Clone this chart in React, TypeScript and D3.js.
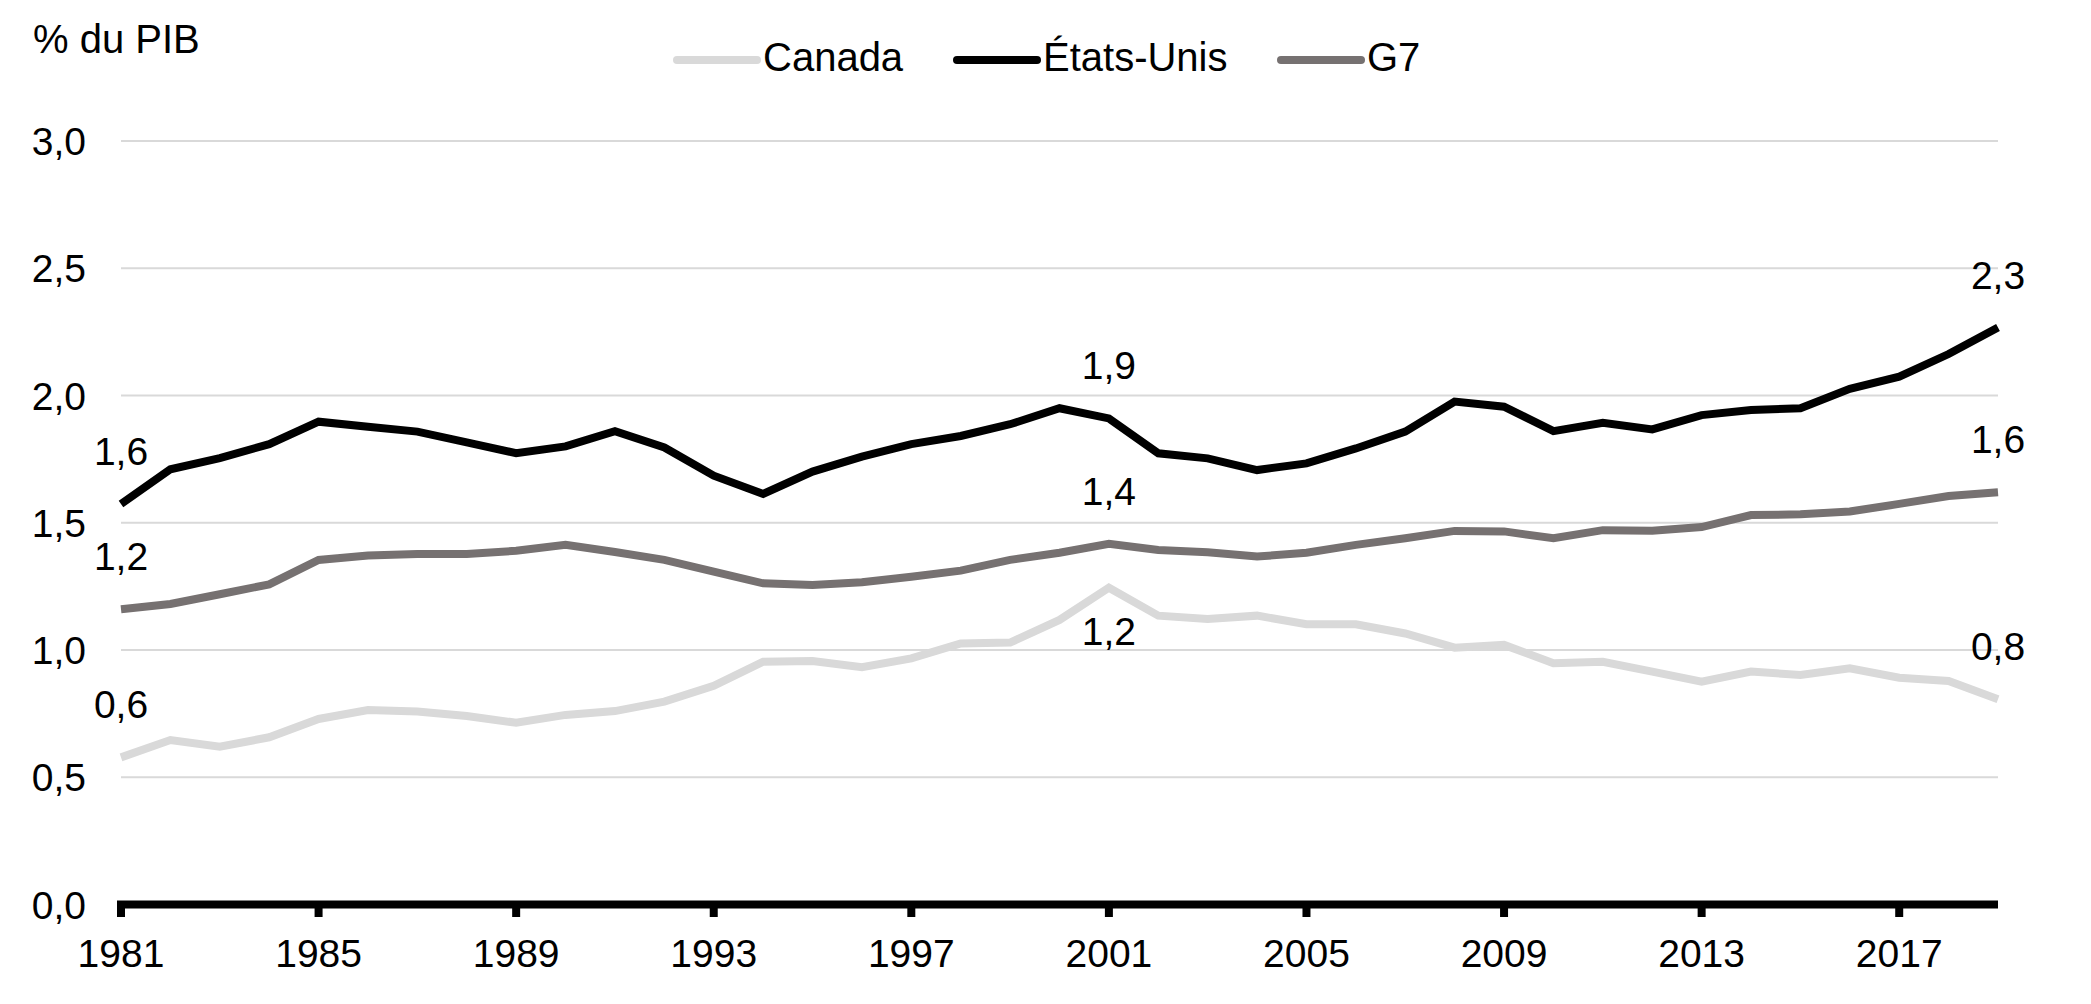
import React from "react";
import * as d3 from "d3";

const years: number[] = d3.range(1981, 2020);

const canada: number[] = [
  0.578, 0.646, 0.62, 0.657, 0.729, 0.764, 0.758, 0.741, 0.714, 0.745,
  0.76, 0.797, 0.859, 0.954, 0.957, 0.932, 0.967, 1.026, 1.029, 1.118,
  1.245, 1.135, 1.122, 1.135, 1.101, 1.101, 1.065, 1.009, 1.02, 0.948,
  0.954, 0.915, 0.876, 0.915, 0.902, 0.928, 0.891, 0.878, 0.806,
];

const etatsUnis: number[] = [
  1.574, 1.71, 1.754, 1.809, 1.897, 1.877, 1.858, 1.816, 1.773, 1.8,
  1.86, 1.796, 1.685, 1.613, 1.701, 1.76, 1.809, 1.841, 1.887, 1.95,
  1.91, 1.773, 1.753, 1.707, 1.733, 1.792, 1.858, 1.976, 1.956, 1.86,
  1.893, 1.867, 1.923, 1.943, 1.95, 2.026, 2.074, 2.163, 2.267,
];

const g7: number[] = [
  1.16, 1.181, 1.219, 1.258, 1.354, 1.371, 1.377, 1.377, 1.39, 1.413,
  1.385, 1.354, 1.308, 1.262, 1.255, 1.266, 1.288, 1.312, 1.354, 1.382,
  1.417, 1.393, 1.384, 1.367, 1.382, 1.413, 1.439, 1.468, 1.466, 1.439,
  1.471, 1.469, 1.483, 1.53, 1.533, 1.544, 1.574, 1.605, 1.62,
];

const seriesNames: string[] = ["Canada", "États-Unis", "G7"];
const seriesColors: string[] = ["#d9d9d9", "#000000", "#767171"];

const yTicks: number[] = [0, 0.5, 1, 1.5, 2, 2.5, 3];
const xTicks: number[] = [1981, 1985, 1989, 1993, 1997, 2001, 2005, 2009, 2013, 2017];

// annotations
const labelSeries: number[] = [1, 2, 0, 1, 2, 0, 1, 2, 0];
const labelYears: number[] = [1981, 1981, 1981, 2001, 2001, 2001, 2019, 2019, 2019];
const labelTexts: string[] = ["1,6", "1,2", "0,6", "1,9", "1,4", "1,2", "2,3", "1,6", "0,8"];
const labelBelow: boolean[] = [false, false, false, false, false, true, false, false, false];

const W = 2091;
const H = 1004;
const FONT = "'Liberation Sans', Arial, Helvetica, sans-serif";
const FS = 39;
const FS_HEAD = 40;

export default function App() {
  const x = d3.scaleLinear().domain([1981, 2019]).range([121, 1998]);
  const y = d3.scaleLinear().domain([0, 3]).range([904.5, 141]);
  const allSeries = [canada, etatsUnis, g7];
  const line = d3
    .line<number>()
    .x((_, i) => x(years[i]))
    .y((d) => y(d));
  const fmt = (v: number) => d3.format(".1f")(v).replace(".", ",");

  // legend layout
  const legendStarts = [673, 953, 1277];
  const legendLine = 88;
  const legendTextOffset = 90;

  return (
    <svg
      width={W}
      height={H}
      style={{ position: "absolute", left: 0, top: 0, background: "#fff" }}
      fontFamily={FONT}
    >
      <rect x={0} y={0} width={W} height={H} fill="#fff" />
      <text x={33} y={53} fontSize={FS_HEAD} fill="#000">
        % du PIB
      </text>

      {/* legend */}
      {seriesNames.map((name, i) => (
        <g key={name}>
          <line
            x1={legendStarts[i] + 4}
            x2={legendStarts[i] + legendLine - 4}
            y1={60}
            y2={60}
            stroke={seriesColors[i]}
            strokeWidth={8}
            strokeLinecap="round"
          />
          <text x={legendStarts[i] + legendTextOffset} y={71} fontSize={FS_HEAD} fill="#000">
            {name}
          </text>
        </g>
      ))}

      {/* gridlines */}
      {yTicks
        .filter((t) => t > 0)
        .map((t) => (
          <line
            key={t}
            x1={x(1981)}
            x2={x(2019)}
            y1={y(t)}
            y2={y(t)}
            stroke="#d9d9d9"
            strokeWidth={2}
          />
        ))}

      {/* y tick labels */}
      {yTicks.map((t) => (
        <text key={t} x={86} y={y(t) + 14} fontSize={FS} textAnchor="end" fill="#000">
          {fmt(t)}
        </text>
      ))}

      {/* series */}
      {allSeries.map((s, i) => (
        <path
          key={seriesNames[i]}
          d={line(s) || ""}
          fill="none"
          stroke={seriesColors[i]}
          strokeWidth={8}
          strokeLinejoin="miter"
        />
      ))}

      {/* x axis */}
      <line x1={x(1981) - 4} x2={x(2019)} y1={y(0)} y2={y(0)} stroke="#000" strokeWidth={8} />
      {xTicks.map((t) => (
        <g key={t}>
          <line x1={x(t)} x2={x(t)} y1={y(0)} y2={y(0) + 12.5} stroke="#000" strokeWidth={8} />
          <text x={x(t)} y={967} fontSize={FS} textAnchor="middle" fill="#000">
            {t}
          </text>
        </g>
      ))}

      {/* data labels */}
      {labelTexts.map((txt, i) => {
        const s = allSeries[labelSeries[i]];
        const idx = labelYears[i] - 1981;
        const px = x(labelYears[i]);
        const py = y(s[idx]);
        return (
          <text
            key={i}
            x={px}
            y={labelBelow[i] ? py + 57 : py - 39}
            fontSize={FS}
            textAnchor="middle"
            fill="#000"
          >
            {txt}
          </text>
        );
      })}
    </svg>
  );
}
